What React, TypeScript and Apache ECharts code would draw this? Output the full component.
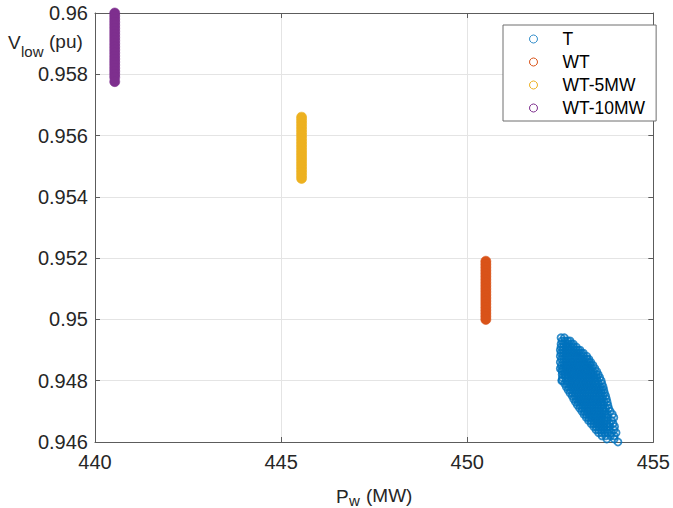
import React, { useEffect, useRef } from "react";
import * as echarts from "echarts";

const FONT = "'Liberation Sans', Arial, Helvetica, sans-serif";

const seriesNames = ["T", "WT", "WT-5MW", "WT-10MW"];
const seriesColors = ["#0072BD", "#D95319", "#EDB120", "#7E2F8E"];

const xTickLabels = ["440", "445", "450", "455"];
const yTickLabels = ["0.946", "0.948", "0.95", "0.952", "0.954", "0.956", "0.958", "0.96"];

// T: scattered cloud, rows of [V_low, [P_w values]]
const tRows: [number, number[]][] = [
  [0.9494, [452.52, 452.61]],
  [0.9493, [452.55, 452.63, 452.7, 452.76]],
  [0.9492, [452.52, 452.59, 452.66, 452.73, 452.8, 452.85]],
  [0.9491, [452.52, 452.58, 452.65, 452.72, 452.79, 452.86, 452.93]],
  [0.949, [452.5, 452.57, 452.64, 452.71, 452.78, 452.85, 452.92, 452.98, 453.03]],
  [0.9489, [452.52, 452.59, 452.66, 452.73, 452.8, 452.87, 452.94, 453.01, 453.07, 453.12]],
  [0.9488, [452.5, 452.57, 452.64, 452.71, 452.78, 452.85, 452.92, 452.99, 453.06, 453.13, 453.21]],
  [0.9487, [452.53, 452.6, 452.67, 452.74, 452.81, 452.88, 452.95, 453.02, 453.09, 453.16, 453.22, 453.27]],
  [0.9486, [452.5, 452.58, 452.65, 452.72, 452.79, 452.86, 452.93, 453.0, 453.07, 453.14, 453.21, 453.27, 453.32]],
  [0.9485, [452.53, 452.61, 452.68, 452.75, 452.82, 452.89, 452.96, 453.03, 453.1, 453.17, 453.24, 453.31, 453.38]],
  [0.9484, [452.5, 452.58, 452.65, 452.72, 452.79, 452.86, 452.93, 453.0, 453.07, 453.14, 453.21, 453.28, 453.35, 453.43]],
  [0.9483, [452.55, 452.62, 452.69, 452.76, 452.83, 452.9, 452.97, 453.04, 453.11, 453.18, 453.25, 453.32, 453.39, 453.48]],
  [0.9482, [452.55, 452.63, 452.7, 452.77, 452.84, 452.91, 452.98, 453.05, 453.12, 453.19, 453.26, 453.33, 453.4, 453.46, 453.52]],
  [0.9481, [452.56, 452.64, 452.71, 452.78, 452.85, 452.92, 452.99, 453.06, 453.13, 453.2, 453.27, 453.34, 453.41, 453.48, 453.56]],
  [0.948, [452.54, 452.66, 452.73, 452.8, 452.87, 452.94, 453.01, 453.08, 453.15, 453.22, 453.29, 453.36, 453.43, 453.5, 453.6]],
  [0.9479, [452.62, 452.69, 452.76, 452.83, 452.9, 452.97, 453.04, 453.11, 453.18, 453.25, 453.32, 453.39, 453.46, 453.53, 453.62]],
  [0.9478, [452.66, 452.73, 452.8, 452.87, 452.94, 453.01, 453.08, 453.15, 453.22, 453.29, 453.36, 453.43, 453.5, 453.57, 453.65]],
  [0.9477, [452.71, 452.78, 452.85, 452.92, 452.99, 453.06, 453.13, 453.2, 453.27, 453.34, 453.41, 453.48, 453.55, 453.61, 453.67]],
  [0.9476, [452.76, 452.83, 452.9, 452.97, 453.04, 453.11, 453.18, 453.25, 453.32, 453.39, 453.46, 453.53, 453.6, 453.69]],
  [0.9475, [452.82, 452.89, 452.96, 453.03, 453.1, 453.17, 453.24, 453.31, 453.38, 453.45, 453.52, 453.59, 453.65, 453.72]],
  [0.9474, [452.86, 452.93, 453.0, 453.07, 453.14, 453.21, 453.28, 453.35, 453.42, 453.49, 453.56, 453.63, 453.74]],
  [0.9473, [452.91, 452.98, 453.05, 453.12, 453.19, 453.26, 453.33, 453.4, 453.47, 453.54, 453.61, 453.68, 453.76]],
  [0.9472, [452.96, 453.03, 453.1, 453.17, 453.24, 453.31, 453.38, 453.45, 453.52, 453.59, 453.66, 453.78]],
  [0.9471, [453.02, 453.09, 453.16, 453.23, 453.3, 453.37, 453.44, 453.51, 453.58, 453.65, 453.72, 453.8]],
  [0.947, [453.08, 453.15, 453.22, 453.29, 453.36, 453.43, 453.5, 453.57, 453.64, 453.71, 453.84]],
  [0.9469, [453.14, 453.21, 453.28, 453.35, 453.42, 453.49, 453.56, 453.63, 453.7, 453.77, 453.9]],
  [0.9468, [453.2, 453.27, 453.34, 453.41, 453.48, 453.55, 453.62, 453.69, 453.76, 453.94]],
  [0.9467, [453.26, 453.33, 453.4, 453.47, 453.54, 453.61, 453.68, 453.75, 453.88]],
  [0.9466, [453.33, 453.4, 453.47, 453.54, 453.61, 453.68, 453.75, 453.82, 453.92]],
  [0.9465, [453.4, 453.47, 453.54, 453.61, 453.68, 453.75, 453.83, 453.96]],
  [0.9464, [453.46, 453.53, 453.6, 453.67, 453.74, 453.81, 453.94]],
  [0.9463, [453.53, 453.61, 453.69, 453.77, 453.88, 454.0]],
  [0.9462, [453.62, 453.72, 453.85, 453.95]],
  [0.9461, [453.75, 453.95]],
  [0.946, [454.05]],
];
const tExtra: [number, number][] = [
  [452.54, 0.94835],
  [452.55, 0.94802],
];

// WT: constant P_w, spread of V_low
const wtX = 450.5;
const wtY = [
  0.9519, 0.9518, 0.9517, 0.9516, 0.9515, 0.9514, 0.9513, 0.9512, 0.9511, 0.951,
  0.9509, 0.9508, 0.9507, 0.9506, 0.9505, 0.9504, 0.9503, 0.9502, 0.9501, 0.95,
];

// WT-5MW
const wt5X = 445.55;
const wt5Y = [
  0.9566, 0.9565, 0.9564, 0.9563, 0.9562, 0.9561, 0.956, 0.9559, 0.9558, 0.9557, 0.9556,
  0.9555, 0.9554, 0.9553, 0.9552, 0.9551, 0.955, 0.9549, 0.9548, 0.9547, 0.9546,
];

// WT-10MW
const wt10X = 440.53;
const wt10Y = [
  0.96, 0.9599, 0.9598, 0.9597, 0.9596, 0.9595, 0.9594, 0.9593, 0.9592, 0.9591, 0.959,
  0.9589, 0.9588, 0.9587, 0.9586, 0.9585, 0.9584, 0.9583, 0.9582, 0.9581, 0.958, 0.9579,
  0.95776,
];

const AX = "#5c5c5c";
const GRID = "#e4e4e4";
const TXT = "#262626";

export default function App() {
  const ref = useRef<HTMLDivElement>(null);

  useEffect(() => {
    if (!ref.current) return;
    const chart = echarts.init(ref.current, undefined, { renderer: "svg" });

    const tData: [number, number][] = [];
    tRows.forEach(([y, xs]) => xs.forEach((x) => tData.push([x, y])));
    tExtra.forEach((p) => tData.push(p));

    const barSeries = (name: string, color: string, x: number, ys: number[]) => ({
      name,
      type: "scatter",
      xAxisIndex: 0,
      yAxisIndex: 0,
      symbol: "circle",
      symbolSize: 10,
      itemStyle: { color, borderColor: color, borderWidth: 0.6, opacity: 1 },
      data: ys.map((y) => [x, y]),
      z: 3,
    });

    const xAxisCommon = {
      type: "value",
      min: 440,
      max: 455,
      interval: 5,
    };
    const yAxisCommon = {
      type: "value",
      min: 0.946,
      max: 0.96,
      interval: 0.002,
    };

    const option: any = {
      animation: false,
      backgroundColor: "#ffffff",
      textStyle: { fontFamily: FONT },
      grid: { left: 95, right: 16, top: 13, bottom: 66 },
      xAxis: [
        {
          ...xAxisCommon,
          position: "bottom",
          axisLine: { show: true, onZero: false, lineStyle: { color: AX, width: 1 } },
          axisTick: { show: true, inside: true, length: 5, lineStyle: { color: AX } },
          axisLabel: {
            fontSize: 20,
            color: TXT,
            margin: 10,
            fontFamily: FONT,
            formatter: (v: number) => xTickLabels[Math.round((v - 440) / 5)] ?? "",
          },
          splitLine: { show: true, lineStyle: { color: GRID, width: 1 } },
        },
        {
          ...xAxisCommon,
          position: "top",
          axisLine: { show: true, onZero: false, lineStyle: { color: AX, width: 1 } },
          axisTick: { show: true, inside: true, length: 5, lineStyle: { color: AX } },
          axisLabel: { show: false },
          splitLine: { show: false },
        },
      ],
      yAxis: [
        {
          ...yAxisCommon,
          position: "left",
          axisLine: { show: true, onZero: false, lineStyle: { color: AX, width: 1 } },
          axisTick: { show: true, inside: true, length: 5, lineStyle: { color: AX } },
          axisLabel: {
            fontSize: 20,
            color: TXT,
            margin: 7,
            fontFamily: FONT,
            formatter: (v: number) => yTickLabels[Math.round((v - 0.946) / 0.002)] ?? "",
          },
          splitLine: { show: true, lineStyle: { color: GRID, width: 1 } },
        },
        {
          ...yAxisCommon,
          position: "right",
          axisLine: { show: true, onZero: false, lineStyle: { color: AX, width: 1 } },
          axisTick: { show: true, inside: true, length: 5, lineStyle: { color: AX } },
          axisLabel: { show: false },
          splitLine: { show: false },
        },
      ],
      legend: {
        orient: "vertical",
        left: 503,
        top: 25,
        padding: [5, 11, 4, 26],
        itemGap: 5,
        itemWidth: 48,
        itemHeight: 8,
        backgroundColor: "#ffffff",
        borderColor: "#6e6e6e",
        borderWidth: 1,
        borderRadius: 0,
        textStyle: { fontSize: 17.5, color: "#000000", fontFamily: FONT },
        data: seriesNames.map((n, i) => ({
          name: n,
          icon: "circle",
          itemStyle: { color: "#ffffff", borderColor: seriesColors[i], borderWidth: 1 },
        })),
      },
      series: [
        {
          name: seriesNames[0],
          type: "scatter",
          xAxisIndex: 0,
          yAxisIndex: 0,
          symbol: "circle",
          symbolSize: 7,
          itemStyle: { color: "rgba(0,0,0,0)", borderColor: seriesColors[0], borderWidth: 1.8 },
          data: tData,
          z: 3,
        },
        barSeries(seriesNames[1], seriesColors[1], wtX, wtY),
        barSeries(seriesNames[2], seriesColors[2], wt5X, wt5Y),
        barSeries(seriesNames[3], seriesColors[3], wt10X, wt10Y),
      ],
      graphic: [
        { type: "text", left: 8, top: 33, style: { text: "V", fontSize: 19, fill: TXT, font: `19px ${FONT}` } },
        { type: "text", left: 21, top: 44, style: { text: "low", fontSize: 15, fill: TXT, font: `15px ${FONT}` } },
        { type: "text", left: 49, top: 32, style: { text: "(pu)", fontSize: 19, fill: TXT, font: `19px ${FONT}` } },
        { type: "text", left: 336, top: 487, style: { text: "P", fontSize: 19, fill: TXT, font: `19px ${FONT}` } },
        { type: "text", left: 349, top: 493, style: { text: "w", fontSize: 15, fill: TXT, font: `15px ${FONT}` } },
        { type: "text", left: 366, top: 486, style: { text: "(MW)", fontSize: 19, fill: TXT, font: `19px ${FONT}` } },
      ],
    };

    chart.setOption(option);
    return () => chart.dispose();
  }, []);

  return (
    <div
      ref={ref}
      style={{ position: "fixed", left: 0, top: 0, width: 673, height: 508, background: "#fff" }}
    />
  );
}
